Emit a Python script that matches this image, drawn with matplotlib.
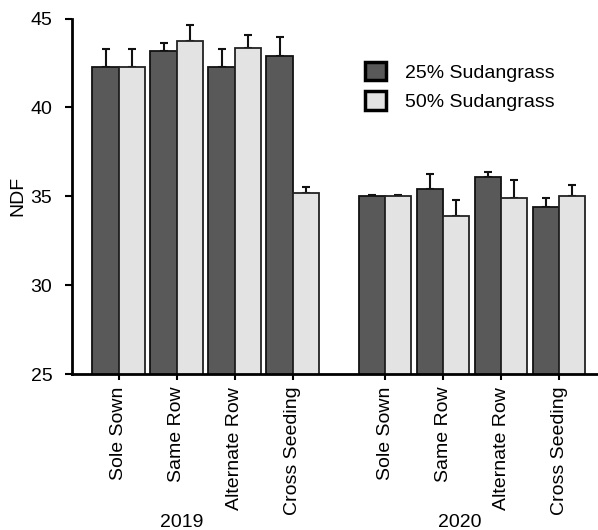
import numpy as np
import matplotlib
matplotlib.use("Agg")
import matplotlib.pyplot as plt

plt.rcParams['font.family'] = ['Liberation Sans', 'DejaVu Sans']

years = ['2019', '2020']
treatments = ['Sole Sown', 'Same Row', 'Alternate Row', 'Cross Seeding']
series = ['25% Sudangrass', '50% Sudangrass']

# NDF means, [2019 x4, 2020 x4]
ndf_25 = [42.3, 43.15, 42.3, 42.9, 35.0, 35.43, 36.07, 34.38]
ndf_50 = [42.3, 43.73, 43.33, 35.19, 35.0, 33.88, 34.9, 35.0]
err_25 = [1.0, 0.5, 1.0, 1.05, 0.1, 0.82, 0.3, 0.52]
err_50 = [1.0, 0.93, 0.73, 0.33, 0.1, 0.9, 1.03, 0.66]

# pair positions, second year shifted by a gap
x = np.concatenate([np.arange(4), np.arange(4) + 4.59])
w = 0.455

fig = plt.figure(figsize=(5.98, 5.30), dpi=100)
ax = fig.add_axes([0.120, 0.294, 0.878, 0.671])

ax.bar(x - w / 2, ndf_25, w, color='#595959', edgecolor='#111111',
       linewidth=1.3, label=series[0], zorder=2)
ax.bar(x + w / 2, ndf_50, w, color='#e3e3e3', edgecolor='#222222',
       linewidth=1.3, label=series[1], zorder=2)
ax.errorbar(x - w / 2, ndf_25, yerr=[np.zeros(8), err_25], fmt='none',
            ecolor='#111111', elinewidth=1.5, capsize=3, capthick=1.5, zorder=1)
ax.errorbar(x + w / 2, ndf_50, yerr=[np.zeros(8), err_50], fmt='none',
            ecolor='#111111', elinewidth=1.5, capsize=3, capthick=1.5, zorder=1)

ax.set_ylim(25, 45)
ax.set_xlim(-0.81, 8.24)
ax.set_yticks([25, 30, 35, 40, 45])
ax.set_xticks(x)
ax.set_xticklabels(treatments * 2, rotation=90, fontsize=14)
ax.tick_params(axis='y', labelsize=14, length=5, width=1.5, direction='out', pad=9)
ax.tick_params(axis='x', length=4, width=1.5, direction='out', pad=5)
ax.set_ylabel('NDF', fontsize=14, labelpad=3)

for s in ['top', 'right']:
    ax.spines[s].set_visible(False)
for s in ['left', 'bottom']:
    ax.spines[s].set_linewidth(2)

ax.text(1.09, -0.418, years[0], transform=ax.get_xaxis_transform(),
        ha='center', va='center', fontsize=14)
ax.text(5.88, -0.418, years[1], transform=ax.get_xaxis_transform(),
        ha='center', va='center', fontsize=14)

leg = fig.legend(loc='center left', bbox_to_anchor=(0.610, 0.837),
                 frameon=False, fontsize=14, handlelength=1.1, handleheight=1.1,
                 handletextpad=0.95, labelspacing=0.5, borderpad=0,
                 borderaxespad=0)
for h in leg.legend_handles:
    h.set_linewidth(2.5)
    h.set_edgecolor('#000000')

fig.savefig('out.png', dpi=100)
